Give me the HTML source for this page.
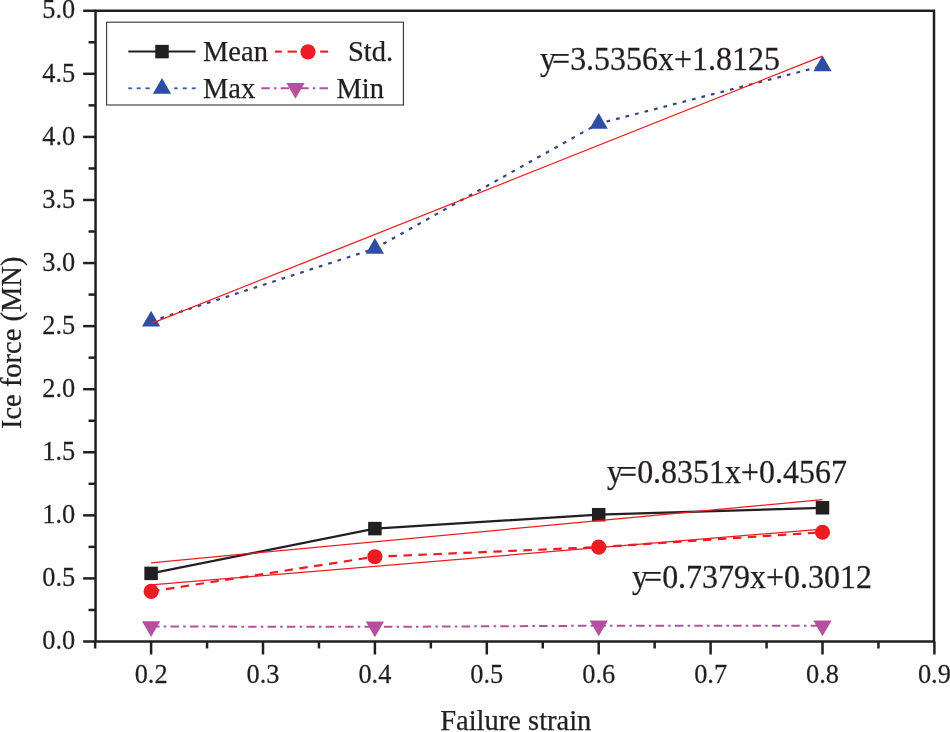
<!DOCTYPE html>
<html><head><meta charset="utf-8"><title>Ice force vs failure strain</title>
<style>
html,body{margin:0;padding:0;background:#fff;}
svg{display:block;will-change:transform;}
text{font-family:"Liberation Serif",serif;fill:#231f20;stroke:#231f20;stroke-width:0.25px;}
.tk{font-size:28.2px;}
.lg{font-size:28.5px;}
.eq{font-size:33px;}
</style></head><body>
<svg width="950" height="732" viewBox="0 0 950 732">
<rect width="950" height="732" fill="#fff"/>
<rect x="95.55" y="10.75" width="838.45" height="630.75" fill="none" stroke="#231f20" stroke-width="2.5"/>
<line x1="83.15" x2="95.55" y1="641.50" y2="641.50" stroke="#231f20" stroke-width="2.5"/>
<text transform="translate(75.3,649.20) scale(0.935,1)" text-anchor="end" class="tk">0.0</text>
<line x1="88.55" x2="95.55" y1="609.96" y2="609.96" stroke="#231f20" stroke-width="2.5"/>
<line x1="83.15" x2="95.55" y1="578.42" y2="578.42" stroke="#231f20" stroke-width="2.5"/>
<text transform="translate(75.3,586.12) scale(0.935,1)" text-anchor="end" class="tk">0.5</text>
<line x1="88.55" x2="95.55" y1="546.89" y2="546.89" stroke="#231f20" stroke-width="2.5"/>
<line x1="83.15" x2="95.55" y1="515.35" y2="515.35" stroke="#231f20" stroke-width="2.5"/>
<text transform="translate(75.3,523.05) scale(0.935,1)" text-anchor="end" class="tk">1.0</text>
<line x1="88.55" x2="95.55" y1="483.81" y2="483.81" stroke="#231f20" stroke-width="2.5"/>
<line x1="83.15" x2="95.55" y1="452.27" y2="452.27" stroke="#231f20" stroke-width="2.5"/>
<text transform="translate(75.3,459.97) scale(0.935,1)" text-anchor="end" class="tk">1.5</text>
<line x1="88.55" x2="95.55" y1="420.74" y2="420.74" stroke="#231f20" stroke-width="2.5"/>
<line x1="83.15" x2="95.55" y1="389.20" y2="389.20" stroke="#231f20" stroke-width="2.5"/>
<text transform="translate(75.3,396.90) scale(0.935,1)" text-anchor="end" class="tk">2.0</text>
<line x1="88.55" x2="95.55" y1="357.66" y2="357.66" stroke="#231f20" stroke-width="2.5"/>
<line x1="83.15" x2="95.55" y1="326.12" y2="326.12" stroke="#231f20" stroke-width="2.5"/>
<text transform="translate(75.3,333.82) scale(0.935,1)" text-anchor="end" class="tk">2.5</text>
<line x1="88.55" x2="95.55" y1="294.59" y2="294.59" stroke="#231f20" stroke-width="2.5"/>
<line x1="83.15" x2="95.55" y1="263.05" y2="263.05" stroke="#231f20" stroke-width="2.5"/>
<text transform="translate(75.3,270.75) scale(0.935,1)" text-anchor="end" class="tk">3.0</text>
<line x1="88.55" x2="95.55" y1="231.51" y2="231.51" stroke="#231f20" stroke-width="2.5"/>
<line x1="83.15" x2="95.55" y1="199.97" y2="199.97" stroke="#231f20" stroke-width="2.5"/>
<text transform="translate(75.3,207.67) scale(0.935,1)" text-anchor="end" class="tk">3.5</text>
<line x1="88.55" x2="95.55" y1="168.44" y2="168.44" stroke="#231f20" stroke-width="2.5"/>
<line x1="83.15" x2="95.55" y1="136.90" y2="136.90" stroke="#231f20" stroke-width="2.5"/>
<text transform="translate(75.3,144.60) scale(0.935,1)" text-anchor="end" class="tk">4.0</text>
<line x1="88.55" x2="95.55" y1="105.36" y2="105.36" stroke="#231f20" stroke-width="2.5"/>
<line x1="83.15" x2="95.55" y1="73.82" y2="73.82" stroke="#231f20" stroke-width="2.5"/>
<text transform="translate(75.3,81.52) scale(0.935,1)" text-anchor="end" class="tk">4.5</text>
<line x1="88.55" x2="95.55" y1="42.29" y2="42.29" stroke="#231f20" stroke-width="2.5"/>
<line x1="83.15" x2="95.55" y1="10.75" y2="10.75" stroke="#231f20" stroke-width="2.5"/>
<text transform="translate(75.3,18.45) scale(0.935,1)" text-anchor="end" class="tk">5.0</text>
<line x1="95.15" x2="95.15" y1="641.50" y2="648.50" stroke="#231f20" stroke-width="2.5"/>
<line x1="151.10" x2="151.10" y1="641.50" y2="654.50" stroke="#231f20" stroke-width="2.5"/>
<text transform="translate(151.10,682.5) scale(0.935,1)" text-anchor="middle" class="tk">0.2</text>
<line x1="207.05" x2="207.05" y1="641.50" y2="648.50" stroke="#231f20" stroke-width="2.5"/>
<line x1="263.00" x2="263.00" y1="641.50" y2="654.50" stroke="#231f20" stroke-width="2.5"/>
<text transform="translate(263.00,682.5) scale(0.935,1)" text-anchor="middle" class="tk">0.3</text>
<line x1="318.95" x2="318.95" y1="641.50" y2="648.50" stroke="#231f20" stroke-width="2.5"/>
<line x1="374.90" x2="374.90" y1="641.50" y2="654.50" stroke="#231f20" stroke-width="2.5"/>
<text transform="translate(374.90,682.5) scale(0.935,1)" text-anchor="middle" class="tk">0.4</text>
<line x1="430.85" x2="430.85" y1="641.50" y2="648.50" stroke="#231f20" stroke-width="2.5"/>
<line x1="486.80" x2="486.80" y1="641.50" y2="654.50" stroke="#231f20" stroke-width="2.5"/>
<text transform="translate(486.80,682.5) scale(0.935,1)" text-anchor="middle" class="tk">0.5</text>
<line x1="542.75" x2="542.75" y1="641.50" y2="648.50" stroke="#231f20" stroke-width="2.5"/>
<line x1="598.70" x2="598.70" y1="641.50" y2="654.50" stroke="#231f20" stroke-width="2.5"/>
<text transform="translate(598.70,682.5) scale(0.935,1)" text-anchor="middle" class="tk">0.6</text>
<line x1="654.65" x2="654.65" y1="641.50" y2="648.50" stroke="#231f20" stroke-width="2.5"/>
<line x1="710.60" x2="710.60" y1="641.50" y2="654.50" stroke="#231f20" stroke-width="2.5"/>
<text transform="translate(710.60,682.5) scale(0.935,1)" text-anchor="middle" class="tk">0.7</text>
<line x1="766.55" x2="766.55" y1="641.50" y2="648.50" stroke="#231f20" stroke-width="2.5"/>
<line x1="822.50" x2="822.50" y1="641.50" y2="654.50" stroke="#231f20" stroke-width="2.5"/>
<text transform="translate(822.50,682.5) scale(0.935,1)" text-anchor="middle" class="tk">0.8</text>
<line x1="878.45" x2="878.45" y1="641.50" y2="648.50" stroke="#231f20" stroke-width="2.5"/>
<line x1="934.40" x2="934.40" y1="641.50" y2="654.50" stroke="#231f20" stroke-width="2.5"/>
<text transform="translate(934.40,682.5) scale(0.935,1)" text-anchor="middle" class="tk">0.9</text>
<polyline points="151.10,573.38 374.90,528.60 598.70,514.72 822.50,507.78" fill="none" stroke="#231f20" stroke-width="2.2"/>
<polyline points="151.10,591.42 374.90,556.73 598.70,547.14 822.50,532.25" fill="none" stroke="#ed1c24" stroke-width="2.2" stroke-dasharray="8.5 6.5"/>
<polyline points="151.10,321.33 374.90,248.54 598.70,123.53 822.50,66.00" fill="none" stroke="#34467f" stroke-width="2.2" stroke-dasharray="3.7 6.1"/>
<polyline points="151.10,626.49 374.90,626.87 598.70,625.73 822.50,625.73" fill="none" stroke="#b5509f" stroke-width="2.0" stroke-dasharray="8.5 4.2 2.5 4.2"/>
<rect x="144.35" y="566.63" width="13.5" height="13.5" fill="#231f20"/>
<rect x="368.15" y="521.85" width="13.5" height="13.5" fill="#231f20"/>
<rect x="591.95" y="507.97" width="13.5" height="13.5" fill="#231f20"/>
<rect x="815.75" y="501.03" width="13.5" height="13.5" fill="#231f20"/>
<circle cx="151.10" cy="591.42" r="7.6" fill="#ed1c24"/>
<circle cx="374.90" cy="556.73" r="7.6" fill="#ed1c24"/>
<circle cx="598.70" cy="547.14" r="7.6" fill="#ed1c24"/>
<circle cx="822.50" cy="532.25" r="7.6" fill="#ed1c24"/>
<polygon points="151.10,310.82 142.00,326.59 160.20,326.59" fill="#2e4ea3"/>
<polygon points="374.90,238.04 365.80,253.80 384.00,253.80" fill="#2e4ea3"/>
<polygon points="598.70,113.02 589.60,128.78 607.80,128.78" fill="#2e4ea3"/>
<polygon points="822.50,55.50 813.40,71.26 831.60,71.26" fill="#2e4ea3"/>
<polygon points="151.10,637.00 142.00,621.23 160.20,621.23" fill="#b5509f"/>
<polygon points="374.90,637.37 365.80,621.61 384.00,621.61" fill="#b5509f"/>
<polygon points="598.70,636.24 589.60,620.48 607.80,620.48" fill="#b5509f"/>
<polygon points="822.50,636.24 813.40,620.48 831.60,620.48" fill="#b5509f"/>
<line x1="151.10" y1="323.65" x2="822.50" y2="56.04" stroke="#ed1c24" stroke-width="1.3"/>
<line x1="151.10" y1="562.82" x2="822.50" y2="499.61" stroke="#ed1c24" stroke-width="1.3"/>
<line x1="151.10" y1="584.89" x2="822.50" y2="529.03" stroke="#ed1c24" stroke-width="1.3"/>
<rect x="106.6" y="22.2" width="296.8" height="82.8" fill="#fff" stroke="#333" stroke-width="1.1"/>
<line x1="128.3" x2="195.5" y1="51.6" y2="51.6" stroke="#231f20" stroke-width="2.0"/>
<rect x="155.25" y="44.85" width="13.5" height="13.5" fill="#231f20"/>
<line x1="128.3" x2="131.9" y1="88.3" y2="88.3" stroke="#3a57a6" stroke-width="1.8"/>
<line x1="136.7" x2="140.7" y1="88.3" y2="88.3" stroke="#3a57a6" stroke-width="1.8"/>
<line x1="145.5" x2="149.7" y1="88.3" y2="88.3" stroke="#3a57a6" stroke-width="1.8"/>
<line x1="174.1" x2="177.7" y1="88.3" y2="88.3" stroke="#3a57a6" stroke-width="1.8"/>
<line x1="182.7" x2="186.7" y1="88.3" y2="88.3" stroke="#3a57a6" stroke-width="1.8"/>
<line x1="191.8" x2="195.7" y1="88.3" y2="88.3" stroke="#3a57a6" stroke-width="1.8"/>
<polygon points="162.00,77.99 152.90,93.75 171.10,93.75" fill="#2e4ea3"/>
<line x1="274.9" x2="281.8" y1="51.6" y2="51.6" stroke="#ed1c24" stroke-width="2.1"/>
<line x1="287.6" x2="296.9" y1="51.6" y2="51.6" stroke="#ed1c24" stroke-width="2.1"/>
<line x1="320.1" x2="328.2" y1="51.6" y2="51.6" stroke="#ed1c24" stroke-width="2.1"/>
<circle cx="308.00" cy="51.80" r="7.6" fill="#ed1c24"/>
<line x1="261.3" x2="328.3" y1="88.3" y2="88.3" stroke="#b5509f" stroke-width="2.0" stroke-dasharray="8.5 4.2 2.5 4.2"/>
<polygon points="295.50,98.81 286.40,83.05 304.60,83.05" fill="#b5509f"/>
<text x="203" y="61.4" class="lg">Mean</text>
<text x="203" y="98" class="lg">Max</text>
<text x="348.0" y="61.4" class="lg">Std.</text>
<text x="336.4" y="98" class="lg">Min</text>
<text transform="translate(540.0,70.0) scale(0.969,1)" class="eq">y<tspan dx="-4">=</tspan>3.5356x+1.8125</text>
<text transform="translate(607.0,482.6) scale(0.969,1)" class="eq">y<tspan dx="-4">=</tspan>0.8351x+0.4567</text>
<text transform="translate(632.0,587.6) scale(0.969,1)" class="eq">y<tspan dx="-4">=</tspan>0.7379x+0.3012</text>
<text x="515.8" y="730.4" text-anchor="middle" class="lg">Failure strain</text>
<text transform="translate(20.6,342.8) rotate(-90)" text-anchor="middle" class="lg">Ice force (MN)</text>
</svg>
</body></html>
